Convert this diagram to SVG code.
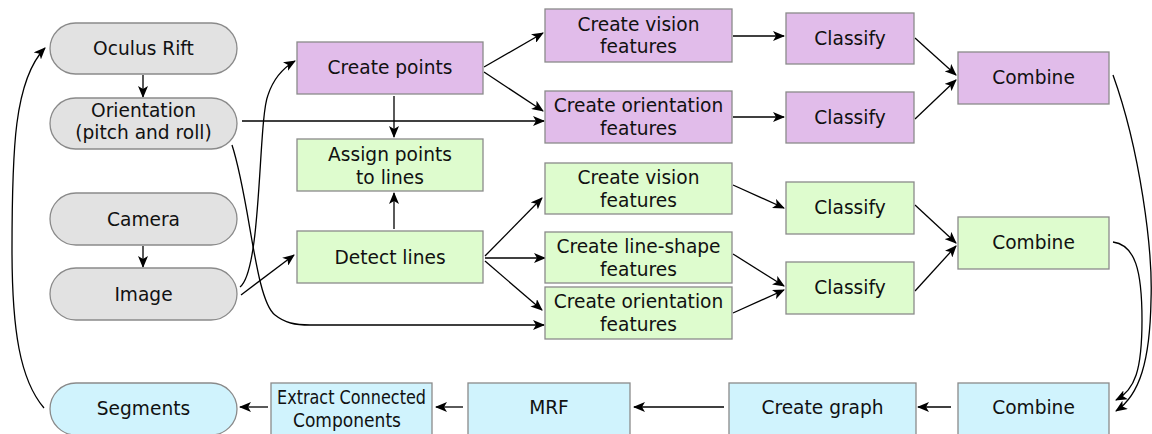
<svg xmlns="http://www.w3.org/2000/svg" width="1152" height="434" viewBox="0 0 1152 434">
<defs>
<style>
.n{stroke:#8a8a8a;stroke-width:1.3}
.g{fill:#e2e2e2}
.p{fill:#e1bcea}
.l{fill:#defcce}
.b{fill:#d0f3fd}
text{font-family:"DejaVu Sans","Liberation Sans",sans-serif;font-size:18.6px;fill:#111;text-anchor:middle}
.c path,.c line{fill:none;stroke:#000;stroke-width:1.3;marker-end:url(#a)}
</style>
<marker id="a" viewBox="0 0 12 10" refX="11" refY="5" markerWidth="12" markerHeight="10" markerUnits="userSpaceOnUse" orient="auto">
<path d="M0,0 L12,5 L0,10 L3,5 Z" fill="#000"/>
</marker>
</defs>
<rect width="1152" height="434" fill="#fff"/>
<g class="c">
<line x1="143" y1="75" x2="143" y2="97"/>
<line x1="143" y1="246" x2="143" y2="267"/>
<line x1="242" y1="121" x2="544" y2="121"/>
<path d="M232,145 C250,200 255,300 275,315 C285,323 295,325 310,325 L544,325"/>
<path d="M240,287 C262,270 258,120 268,95 C273,80 283,68 295,61"/>
<line x1="241" y1="295" x2="294" y2="255"/>
<line x1="394" y1="96" x2="394" y2="137"/>
<line x1="394" y1="229" x2="394" y2="193"/>
<line x1="484" y1="67" x2="543" y2="33"/>
<line x1="484" y1="72" x2="543" y2="111"/>
<line x1="733" y1="36" x2="784" y2="36"/>
<line x1="733" y1="117" x2="784" y2="117"/>
<line x1="915" y1="38" x2="956" y2="75"/>
<line x1="915" y1="119" x2="956" y2="80"/>
<line x1="485" y1="256" x2="542" y2="198"/>
<line x1="485" y1="258" x2="545" y2="258"/>
<line x1="485" y1="261" x2="542" y2="310"/>
<line x1="733" y1="185" x2="784" y2="208"/>
<line x1="733" y1="254" x2="784" y2="286"/>
<line x1="733" y1="313" x2="784" y2="290"/>
<line x1="915" y1="205" x2="956" y2="243"/>
<line x1="915" y1="291" x2="956" y2="246"/>
<path d="M1113,75 C1140,150 1153,250 1151,300 C1150,360 1140,395 1116,411"/>
<path d="M1113,242 C1135,245 1142,270 1142,320 C1142,370 1135,390 1116,400"/>
<line x1="951" y1="407" x2="918" y2="407"/>
<line x1="724" y1="407" x2="634" y2="407"/>
<line x1="463" y1="407" x2="436" y2="407"/>
<line x1="268" y1="407" x2="240" y2="407"/>
<path d="M44,408 C20,380 12,330 12,250 C12,150 14,80 45,48"/>
</g>
<g id="oculus"><rect class="n g" x="50" y="23" width="187" height="51" rx="25.5"/><text x="143.5" y="55">Oculus Rift</text></g>
<g id="orientation"><rect class="n g" x="50" y="98" width="187" height="51" rx="25.5"/><text x="143.5" y="117">Orientation</text><text x="143.5" y="139">(pitch and roll)</text></g>
<g id="camera"><rect class="n g" x="50" y="193" width="187" height="52" rx="26"/><text x="143.5" y="226">Camera</text></g>
<g id="image"><rect class="n g" x="50" y="268" width="187" height="52" rx="26"/><text x="143.5" y="301">Image</text></g>
<g id="segments"><rect class="n b" x="50" y="383" width="187" height="52" rx="26"/><text x="143.5" y="415">Segments</text></g>
<g id="createpoints"><rect class="n p" x="297" y="42" width="186" height="52"/><text x="390" y="74">Create points</text></g>
<g id="assign"><rect class="n l" x="297" y="139" width="186" height="52"/><text x="390" y="161">Assign points</text><text x="390" y="184">to lines</text></g>
<g id="detect"><rect class="n l" x="297" y="231" width="186" height="52"/><text x="390" y="264">Detect lines</text></g>
<g id="pvision"><rect class="n p" x="545" y="9" width="187" height="53"/><text x="638.5" y="31">Create vision</text><text x="638.5" y="53">features</text></g>
<g id="porient"><rect class="n p" x="545" y="91" width="187" height="52"/><text x="638.5" y="112">Create orientation</text><text x="638.5" y="135">features</text></g>
<g id="pclass1"><rect class="n p" x="786" y="13" width="128" height="51"/><text x="850" y="45">Classify</text></g>
<g id="pclass2"><rect class="n p" x="786" y="92" width="128" height="51"/><text x="850" y="124">Classify</text></g>
<g id="pcombine"><rect class="n p" x="958" y="52" width="151" height="52"/><text x="1033.5" y="84">Combine</text></g>
<g id="gvision"><rect class="n l" x="545" y="163" width="187" height="51"/><text x="638.5" y="184">Create vision</text><text x="638.5" y="207">features</text></g>
<g id="gshape"><rect class="n l" x="545" y="232" width="187" height="51"/><text x="638.5" y="253">Create line-shape</text><text x="638.5" y="276">features</text></g>
<g id="gorient"><rect class="n l" x="545" y="287" width="187" height="52"/><text x="638.5" y="308">Create orientation</text><text x="638.5" y="331">features</text></g>
<g id="gclass1"><rect class="n l" x="786" y="182" width="128" height="52"/><text x="850" y="214">Classify</text></g>
<g id="gclass2"><rect class="n l" x="786" y="262" width="128" height="52"/><text x="850" y="294">Classify</text></g>
<g id="gcombine"><rect class="n l" x="958" y="217" width="151" height="52"/><text x="1033.5" y="249">Combine</text></g>
<g id="bcombine"><rect class="n b" x="958" y="383" width="151" height="52"/><text x="1033.5" y="414">Combine</text></g>
<g id="graph"><rect class="n b" x="729" y="383" width="187" height="52"/><text x="822.5" y="414">Create graph</text></g>
<g id="mrf"><rect class="n b" x="468" y="383" width="162" height="52"/><text x="549" y="414">MRF</text></g>
<g id="extract"><rect class="n b" x="271" y="383" width="161" height="52"/><text x="351.5" y="404" textLength="149" lengthAdjust="spacingAndGlyphs">Extract Connected</text><text x="347" y="427" textLength="108" lengthAdjust="spacingAndGlyphs">Components</text></g>
</svg>
